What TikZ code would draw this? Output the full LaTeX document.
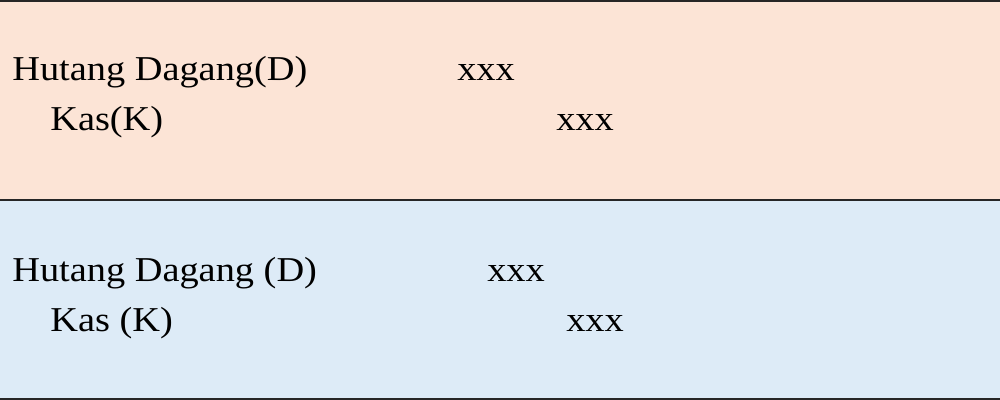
\documentclass[tikz,border=0pt]{standalone}
\usepackage{fontspec}
\setmainfont{Liberation Serif}
\usepackage{tikz}
\definecolor{peach}{RGB}{252,228,214}
\definecolor{paleblue}{RGB}{221,235,247}
\tikzset{
  entry/.style={anchor=base west,inner sep=0pt,xscale=1.1,font=\fontsize{24.8}{30}\selectfont},
  rule/.style={line width=1.3pt,black!85}
}

\begin{document}
\begin{tikzpicture}[x=0.025cm,y=-0.025cm]
        % panels
        \fill[peach] (0,0) rectangle (1000,200);
        \fill[paleblue] (0,200) rectangle (1000,400);
        \useasboundingbox (0,0) rectangle (1000,400);
        % rules
        \draw[rule] (0,0.6) -- (1000,0.6);
        \draw[rule] (0,200) -- (1000,200);
        \draw[rule] (0,399.4) -- (1000,399.4);
        % first journal
        \node[entry] (hd1) at (12,81) {Hutang Dagang(D)};
        \node[entry] (hd1amt) at (457,81) {xxx};
        \node[entry] (kas1) at (50,131) {Kas(K)};
        \node[entry] (kas1amt) at (556,131) {xxx};
        % second journal
        \node[entry] (hd2) at (12,281) {Hutang Dagang (D)};
        \node[entry] (hd2amt) at (487,281) {xxx};
        \node[entry] (kas2) at (50,331) {Kas (K)};
        \node[entry] (kas2amt) at (566,331) {xxx};
    \end{tikzpicture}
\end{document}
